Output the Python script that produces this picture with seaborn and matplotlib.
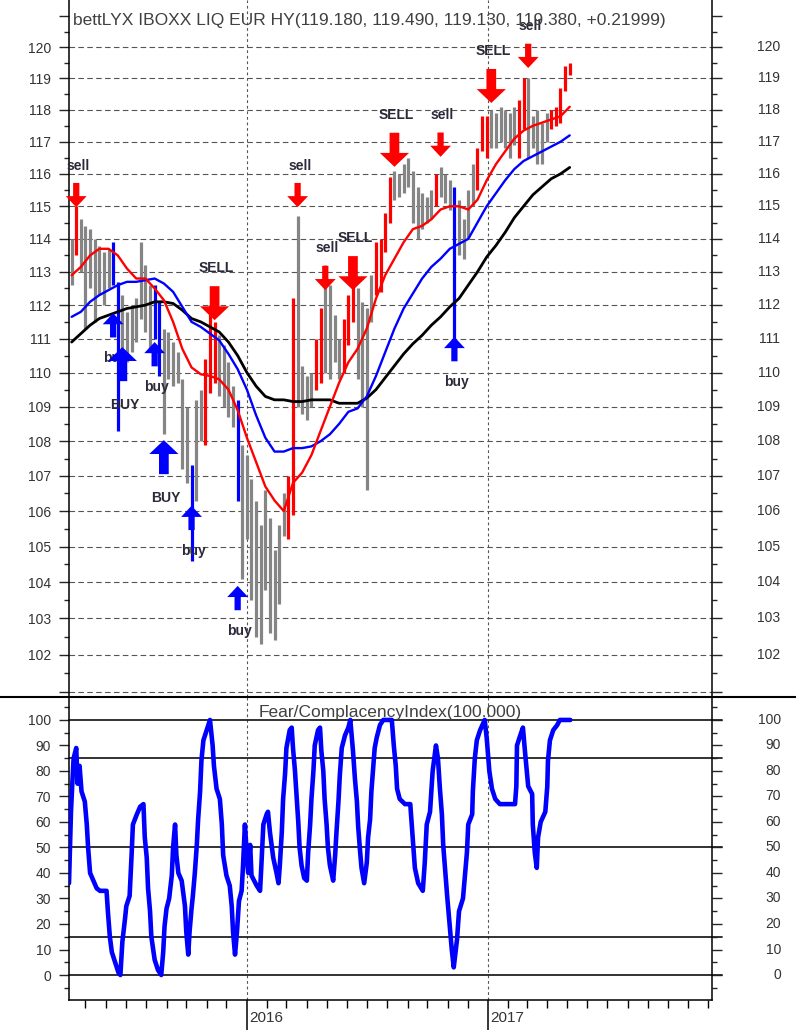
import numpy as np
import pandas as pd
import matplotlib
matplotlib.use("Agg")
import matplotlib.pyplot as plt
import matplotlib.dates as mdates
import matplotlib.ticker as mticker
import matplotlib.transforms as mtrans
from matplotlib.lines import Line2D
from matplotlib.patches import ArrowStyle
from matplotlib import font_manager as fm
import seaborn as sns

# ---------------- data ----------------
TITLE = "bettLYX IBOXX LIQ EUR HY(119.180, 119.490, 119.130, 119.380, +0.21999)"
FCI_TITLE = "Fear/ComplacencyIndex(100.000)"

BAR_START = "2015-04-10"   # weekly bars
bar_high = [114.0, 115.0, 114.6, 114.4, 114.3, 114.0, 113.8, 113.6, 113.7, 113.9,
            112.7, 112.3, 111.8, 112.0, 112.2, 113.9, 113.2, 112.6, 112.6, 112.1,
            111.3, 111.2, 110.9, 110.6, 109.8, 109.0, 107.3, 109.2, 109.5, 110.4,
            112.0, 111.5, 111.1, 110.8, 110.3, 109.6, 109.2, 107.9, 107.6, 106.9,
            106.3, 105.6, 106.6, 105.8, 104.9, 105.6, 106.5, 107.0, 112.2, 114.7,
            110.2, 109.9, 110.0, 111.0, 111.9, 113.2, 112.6, 111.7, 111.0, 111.6,
            112.3, 112.6, 112.5, 112.1, 111.9, 112.9, 113.9, 114.0, 114.8, 115.9,
            116.1, 116.0, 116.3, 116.5, 116.1, 115.6, 115.4, 115.3, 115.5, 116.0,
            116.2, 116.0, 115.8, 115.6, 115.2, 114.6, 115.5, 116.3, 116.8, 117.8,
            117.8, 118.0, 117.9, 118.1, 118.0, 117.9, 118.1, 118.3, 119.0, 119.0,
            117.8, 118.0, 117.6, 117.9, 118.0, 118.1, 118.7, 119.4, 119.5]
bar_low = [112.6, 113.5, 113.0, 111.3, 112.5, 111.5, 112.3, 112.0, 112.5, 112.6,
           108.3, 110.6, 110.3, 110.6, 110.9, 111.6, 111.2, 110.7, 111.0, 109.9,
           108.2, 109.8, 109.6, 109.7, 107.2, 106.8, 104.6, 106.3, 108.0, 107.9,
           109.4, 109.7, 109.3, 109.0, 108.7, 108.4, 106.3, 104.1, 105.2, 103.5,
           102.5, 102.3, 103.8, 102.6, 102.4, 103.4, 105.3, 105.2, 105.9, 109.0,
           108.8, 108.6, 109.0, 109.5, 109.7, 110.0, 109.8, 110.3, 109.8, 110.0,
           110.8, 111.5, 109.8, 109.0, 106.6, 111.5, 112.3, 112.4, 113.6, 114.5,
           115.2, 115.3, 115.4, 115.6, 114.5, 114.0, 114.3, 114.5, 114.6, 115.0,
           115.3, 115.1, 114.9, 111.0, 113.5, 113.4, 114.0, 115.0, 115.5, 116.7,
           116.5, 116.8, 116.8, 117.0, 116.8, 116.5, 116.9, 116.5, 117.4, 116.5,
           116.8, 116.3, 116.3, 117.0, 117.4, 117.5, 117.6, 118.6, 119.1]
# g = neutral, r = sell phase, b = buy phase
bar_state = ("grgggggggb" "bgggggggbb" "ggggggbggr" "rrggggbggg" "gggggggrrg"
             "gggrrggggr" "rrggggrrrr" "gggggggggr" "gggbggggrr" "rggggggrrg"
             "ggggrrrrr")

# moving averages, sampled every second bar
ma_fast = [112.9, 113.15, 113.5, 113.7, 113.7, 113.5, 113.1, 112.8, 112.8, 112.5,
           112.15, 111.5, 110.7, 110.15, 109.95, 109.9, 109.8, 109.5, 108.9, 108.1,
           107.4, 106.7, 106.3, 106.0, 106.8, 107.1, 107.6, 108.3, 109.0, 109.7,
           110.3, 110.7, 111.3, 112.2, 112.9, 113.4, 113.9, 114.3, 114.4, 114.6,
           114.9, 115.0, 115.0, 114.9, 115.2, 115.8, 116.3, 116.7, 117.1, 117.35,
           117.5, 117.6, 117.7, 117.8, 118.1]
ma_mid = [111.65, 111.8, 112.1, 112.3, 112.45, 112.6, 112.7, 112.7, 112.75, 112.8,
          112.65, 112.4, 111.95, 111.5, 111.35, 111.15, 110.95, 110.55, 110.1, 109.5,
          108.75, 108.1, 107.7, 107.7, 107.8, 107.8, 107.85, 108.0, 108.2, 108.5,
          108.85, 108.95, 109.3, 109.9, 110.6, 111.3, 111.9, 112.35, 112.8, 113.15,
          113.4, 113.7, 113.85, 114.0, 114.5, 115.0, 115.4, 115.8, 116.15, 116.4,
          116.55, 116.7, 116.85, 117.0, 117.2]
ma_slow = [110.9, 111.15, 111.4, 111.6, 111.7, 111.8, 111.9, 111.95, 112.0, 112.1,
           112.1, 112.05, 111.85, 111.6, 111.5, 111.35, 111.2, 110.9, 110.5, 110.0,
           109.6, 109.3, 109.2, 109.2, 109.15, 109.15, 109.2, 109.2, 109.2, 109.1,
           109.1, 109.1, 109.25, 109.5, 109.85, 110.2, 110.55, 110.85, 111.1, 111.4,
           111.65, 111.95, 112.2, 112.6, 113.0, 113.45, 113.8, 114.2, 114.65, 115.0,
           115.35, 115.6, 115.85, 116.0, 116.2]

# signals: bar index, arrow tip price, label
sig_bar = [1, 9, 11, 18, 20, 26, 31, 36, 49, 55, 61, 70, 80, 83, 91, 99]
sig_tip = [114.97, 111.76, 110.75, 110.9, 108.03, 106.15, 111.55, 103.9,
           114.97, 112.45, 112.45, 116.22, 116.53, 111.05, 118.22, 119.33]
sig_label = ["sell", "buy", "BUY", "buy", "BUY", "buy", "SELL", "buy",
             "sell", "sell", "SELL", "SELL", "sell", "buy", "SELL", "sell"]

# Fear/Complacency index (days after FCI_START, value)
FCI_START = "2015-04-06"
fci_day = [0, 2, 3, 5, 7, 11, 13, 16, 19, 24, 27, 29, 32, 37, 42, 47,
           57, 59, 62, 65, 70, 75, 78, 81, 85, 87, 92, 95, 97, 103, 108, 113,
           115, 118, 120, 123, 125, 130, 135, 140, 143, 145, 148, 152, 156, 158, 161,
           163, 166, 171, 176, 178, 181, 183, 186, 188, 191, 194, 196, 199, 201, 204, 209,
           214, 218, 220, 224, 229, 232, 234, 239, 244, 247, 249, 252, 255, 258, 262, 264, 267,
           270, 272, 275, 277, 285, 290, 292, 295, 300, 302, 305, 310, 315, 318, 320, 323,
           325, 328, 330, 335, 338, 340, 343, 345, 348, 350, 353, 357, 361, 363,
           366, 368, 371, 373, 378, 381, 383, 386, 388, 391, 393, 396, 401, 404, 406,
           409, 411, 414, 419, 424, 427, 431, 434, 437, 439, 442, 444, 448,
           452, 454, 457, 459, 462, 464, 467, 472, 477, 490, 493, 496, 498, 502,
           510, 518, 520, 523, 525, 530, 537, 540, 543, 548, 552, 557,
           560, 563, 566, 568, 574, 578, 581, 584, 589, 592, 598, 601, 604, 606,
           612, 613, 616, 619, 624, 631, 634, 638, 642, 647, 654,
           677, 679, 680, 685, 689, 692, 697, 703, 704, 707, 710, 712, 716,
           723, 726, 727, 730, 735, 741, 745, 761]
fci_val = [36, 55, 64, 75, 85, 89, 75, 82, 72, 68, 59, 50, 40, 37, 34, 33,
           33, 25, 15, 9, 5, 1, 0, 13, 22, 27, 31, 47, 59, 63, 66, 67,
           54, 46, 34, 25, 15, 6, 2, 0, 9, 19, 26, 30, 39, 50, 59,
           47, 40, 37, 27, 17, 8, 17, 26, 31, 40, 51, 61, 72, 84, 92, 96,
           100, 90, 82, 73, 69, 59, 47, 39, 35, 27, 17, 8, 17, 29, 33, 42, 59,
           47, 40, 51, 39, 35, 33, 43, 59, 63, 64, 56, 46, 40, 36, 43, 56,
           69, 79, 89, 96, 97, 89, 80, 72, 60, 50, 43, 38, 37, 48,
           59, 69, 80, 90, 96, 97, 88, 80, 69, 59, 50, 43, 37, 47, 56,
           68, 78, 89, 94, 97, 100, 88, 77, 68, 58, 48, 42, 36,
           44, 54, 61, 72, 82, 89, 93, 98, 100, 100, 90, 82, 73, 69,
           67, 67, 60, 50, 42, 36, 33, 44, 59, 64, 80, 90,
           85, 73, 63, 51, 31, 19, 10, 3, 14, 25, 30, 39, 48, 59,
           63, 72, 85, 92, 96, 100, 93, 80, 73, 69, 67,
           67, 74, 90, 94, 97, 88, 74, 71, 59, 48, 42, 54, 60,
           64, 74, 84, 92, 96, 98, 100, 100]

price_ticks = list(range(102, 121))
price_grid = list(range(101, 121))
fci_ticks = list(range(0, 101, 10))
fci_levels = [0, 15, 50, 85, 100]
year_marks = ["2016-01-01", "2017-01-01"]

# ---------------- style ----------------
sns.set_style("ticks")
names = {f.name for f in fm.fontManager.ttflist}
NARROW = "Liberation Sans Narrow" if "Liberation Sans Narrow" in names else "Liberation Sans"
plt.rcParams["font.family"] = ["Liberation Sans", "DejaVu Sans"]
TXT = "#333333"

W, H = 796, 1030
fig = plt.figure(figsize=(W / 100, H / 100), dpi=100)
L, R = 69, 712
ax = fig.add_axes([L / W, 1 - 697 / H, (R - L) / W, 697 / H])
ax2 = fig.add_axes([L / W, 1 - 1000 / H, (R - L) / W, 303 / H], sharex=ax)

bar_dates = pd.date_range(BAR_START, periods=len(bar_high), freq="7D")
cmap = {"g": "#858585", "r": "#ff0000", "b": "#0000ff"}
ax.vlines(bar_dates, bar_low, bar_high, colors=[cmap[c] for c in bar_state],
          linewidth=2.3, zorder=3)

ma_dates = bar_dates[::2]
df_ma = pd.DataFrame({"date": ma_dates, "fast": ma_fast, "mid": ma_mid, "slow": ma_slow})
sns.lineplot(data=df_ma, x="date", y="slow", ax=ax, color="black", linewidth=2.0, zorder=4)
sns.lineplot(data=df_ma, x="date", y="mid", ax=ax, color="#0000ff", linewidth=1.7, zorder=4)
sns.lineplot(data=df_ma, x="date", y="fast", ax=ax, color="#ff0000", linewidth=1.7, zorder=4)

# top axis scale
ax.set_yscale("log")
ax.set_ylim(100.86, 121.52)
ax.yaxis.set_major_locator(mticker.FixedLocator(list(range(101, 122))))
ax.yaxis.set_major_formatter(mticker.FuncFormatter(
    lambda v, p: f"{int(round(v))}" if 102 <= round(v) <= 120 else ""))
ax.yaxis.set_minor_locator(mticker.FixedLocator([v + 0.5 for v in range(101, 121)]))
ax.yaxis.set_minor_formatter(mticker.NullFormatter())
for v in price_grid:
    ax.axhline(v, color="#555555", lw=0.8, ls=(0, (5, 3)), zorder=1)
for d in year_marks:
    ax.axvline(pd.Timestamp(d), color="#555555", lw=0.8, ls=(0, (2.5, 2.5)), zorder=1)
ax.spines["top"].set_visible(False)
ax.spines["bottom"].set_visible(False)
for s in ("left", "right"):
    ax.spines[s].set_linewidth(1.1)
    ax.spines[s].set_color("black")
ax.tick_params(axis="x", which="both", bottom=False, labelbottom=False)
ax.tick_params(axis="y", which="major", left=True, right=True, labelleft=True,
               labelright=False, length=7, width=1, pad=6, labelsize=10, labelcolor=TXT)
ax.tick_params(axis="y", which="minor", left=True, right=True, length=3.5, width=1)
for lab in ax.get_yticklabels():
    lab.set_family(NARROW)
blend = mtrans.blended_transform_factory(ax.transAxes, ax.transData)
for v in price_ticks:
    ax.text((780 - L) / (R - L), v, str(v), transform=blend, ha="right", va="center",
            fontsize=10, family=NARROW, color=TXT)
ax.set_xlabel("")
ax.set_ylabel("")

# signals
for k, (i, tip, lab) in enumerate(zip(sig_bar, sig_tip, sig_label)):
    big = lab.isupper()
    sell = lab.lower() == "sell"
    sign = 1 if sell else -1
    col = "#ff0000" if sell else "#0000ff"
    if big:
        length, hl, hw, tw = 24.5, 10, 21, 7
        loff = 37.5 if sell else 42
    else:
        length, hl, hw, tw = 17.5, 8, 15, 4.5
        loff = 30 if sell else 32.5
    style = ArrowStyle.Simple(head_length=hl, head_width=hw, tail_width=tw)
    ax.annotate("", xy=(bar_dates[i], tip), xytext=(0, sign * length),
                textcoords="offset points",
                arrowprops=dict(arrowstyle=style, color=col, mutation_scale=1,
                                shrinkA=0, shrinkB=0, lw=0),
                zorder=6 + 2 * k, annotation_clip=False)
    ax.annotate(lab, xy=(bar_dates[i], tip), xytext=(1.5, sign * loff),
                textcoords="offset points", ha="center", va="center", fontsize=10,
                fontweight="bold", color="#2a2a3a", zorder=5 + 2 * k,
                annotation_clip=False)

fig.text(73 / W, 1 - 20 / H, TITLE, ha="left", va="center", fontsize=12.5, color="#404040")

# ---------------- lower panel ----------------
fci_dates = pd.Timestamp(FCI_START) + pd.to_timedelta(fci_day, unit="D")
sns.lineplot(x=fci_dates, y=fci_val, ax=ax2, color="#0000ff", linewidth=3.3, zorder=4)
for lv in fci_levels:
    ax2.axhline(lv, color="#222222", lw=1.3, zorder=2, xmax=1.016, clip_on=False)
for d in year_marks:
    ax2.axvline(pd.Timestamp(d), color="#555555", lw=0.8, ls=(0, (2.5, 2.5)), zorder=1)
ax2.set_ylim(-9.8, 109)
ax2.yaxis.set_major_locator(mticker.FixedLocator(fci_ticks))
ax2.yaxis.set_minor_locator(mticker.FixedLocator([v + 5 for v in range(-10, 101, 10)]))
ax2.yaxis.set_minor_formatter(mticker.NullFormatter())
ax2.tick_params(axis="y", which="major", left=True, right=True, labelleft=True,
                labelright=False, length=7, width=1, pad=6, labelsize=10, labelcolor=TXT)
ax2.tick_params(axis="y", which="minor", left=True, right=True, length=3.5, width=1)
for lab in ax2.get_yticklabels():
    lab.set_family(NARROW)
blend2 = mtrans.blended_transform_factory(ax2.transAxes, ax2.transData)
for v in fci_ticks:
    ax2.text((781 - L) / (R - L), v, str(v), transform=blend2, ha="right", va="center",
             fontsize=10, family=NARROW, color=TXT)
ax2.spines["top"].set_visible(False)
for s in ("left", "right", "bottom"):
    ax2.spines[s].set_linewidth(1.1)
    ax2.spines[s].set_color("black")

ax2.set_xlim(pd.Timestamp("2015-04-06"), pd.Timestamp("2017-12-07"))
ax2.xaxis.set_major_locator(mdates.YearLocator())
ax2.xaxis.set_minor_locator(mdates.MonthLocator())
ax2.xaxis.set_major_formatter(mticker.NullFormatter())
ax2.xaxis.set_minor_formatter(mticker.NullFormatter())
ax2.tick_params(axis="x", which="major", length=22, width=1.1, color="black")
ax2.tick_params(axis="x", which="minor", length=5.5, width=1, color="black")
for d in year_marks:
    ax2.annotate(d[:4], xy=(pd.Timestamp(d), 0), xycoords=("data", "axes fraction"),
                 xytext=(1.5, -8), textcoords="offset points", ha="left", va="top",
                 fontsize=11, color=TXT, annotation_clip=False)
ax2.set_xlabel("")
ax2.set_ylabel("")

fig.text(390 / W, 1 - 713 / H, FCI_TITLE, ha="center", va="center", fontsize=12.5,
         color="#404040")

fig.add_artist(Line2D([0, 1], [1 - 697 / H, 1 - 697 / H], transform=fig.transFigure,
                      color="black", lw=1.5))

fig.savefig("out.png", dpi=100)
